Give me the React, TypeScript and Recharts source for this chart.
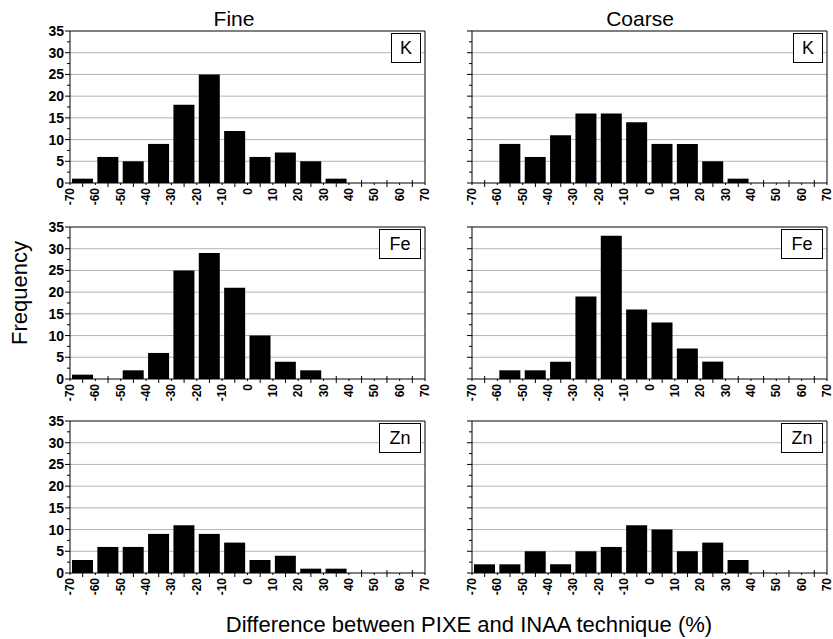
import { Bar, BarChart, CartesianGrid, ReferenceLine, XAxis, YAxis } from 'recharts';

const FONT = 'Liberation Sans, Arial, sans-serif';

// histogram bins (% difference), bin centres between the labelled edges
const binCenters = [-65, -55, -45, -35, -25, -15, -5, 5, 15, 25, 35, 45, 55, 65];
const xTickValues = [-70, -65, -60, -55, -50, -45, -40, -35, -30, -25, -20, -15, -10, -5, 0, 5, 10, 15, 20, 25, 30, 35, 40, 45, 50, 55, 60, 65, 70];
const yTickValues = [0, 2.5, 5, 7.5, 10, 12.5, 15, 17.5, 20, 22.5, 25, 27.5, 30, 32.5, 35];
const gridValues = [5, 10, 15, 20, 25, 30];

const fineK = [1, 6, 5, 9, 18, 25, 12, 6, 7, 5, 1, 0, 0, 0];
const coarseK = [0, 9, 6, 11, 16, 16, 14, 9, 9, 5, 1, 0, 0, 0];
const fineFe = [1, 0, 2, 6, 25, 29, 21, 10, 4, 2, 0, 0, 0, 0];
const coarseFe = [0, 2, 2, 4, 19, 33, 16, 13, 7, 4, 0, 0, 0, 0];
const fineZn = [3, 6, 6, 9, 11, 9, 7, 3, 4, 1, 1, 0, 0, 0];
const coarseZn = [2, 2, 5, 2, 5, 6, 11, 10, 5, 7, 3, 0, 0, 0];

const PLOT_W = 355;
const PLOT_H = 152;
const Y_AXIS_W = 42;
const X_AXIS_H = 34;
const TOP_PAD = 9;

function XTick(props: any) {
  const { x, y, payload } = props;
  const v = payload.value as number;
  if (v % 10 !== 0) {
    return <line x1={x} x2={x} y1={y - 3} y2={y + 4} stroke="#000" />;
  }
  return (
    <g>
      <line x1={x} x2={x} y1={y} y2={y + 2} stroke="#000" />
      <text
        x={x}
        y={y + 5}
        transform={`rotate(-90, ${x}, ${y + 5})`}
        textAnchor="end"
        dominantBaseline="central"
        style={{ fontSize: 12, fontWeight: 700, fontFamily: FONT }}
        fill="#000"
      >
        {v}
      </text>
    </g>
  );
}

function makeYTick(showLabels: boolean) {
  return function YTick(props: any) {
    const { x, y, payload } = props;
    const v = payload.value as number;
    const major = v % 5 === 0;
    return (
      <g>
        <line x1={x - (major ? 5 : 3)} x2={x} y1={y} y2={y} stroke="#000" />
        {major && showLabels && (
          <text
            x={x - 6}
            y={y}
            textAnchor="end"
            dominantBaseline="central"
            style={{ fontSize: 14, fontWeight: 700, fontFamily: FONT }}
            fill="#000"
          >
            {v}
          </text>
        )}
      </g>
    );
  };
}

function Panel({ values, label, left, top, showYLabels }: { values: number[]; label: string; left: number; top: number; showYLabels: boolean }) {
  const data = binCenters.map((x, i) => ({ x, v: values[i] }));
  const boxW = label.length > 1 ? 42 : 30;
  return (
    <>
      <div style={{ position: 'absolute', left: left - Y_AXIS_W, top: top - TOP_PAD }}>
        <BarChart width={Y_AXIS_W + PLOT_W + 6} height={TOP_PAD + PLOT_H + X_AXIS_H} data={data} margin={{ top: TOP_PAD, right: 6, left: 0, bottom: 0 }}>
          <CartesianGrid vertical={false} horizontalValues={gridValues} stroke="#b4b4b4" />
          <XAxis
            dataKey="x"
            type="number"
            domain={[-70, 70]}
            allowDataOverflow
            ticks={xTickValues}
            interval={0}
            tickSize={0}
            tickMargin={0}
            tickLine={false}
            axisLine={{ stroke: '#000' }}
            tick={<XTick />}
            height={X_AXIS_H}
          />
          <YAxis
            type="number"
            domain={[0, 35]}
            allowDataOverflow
            ticks={yTickValues}
            interval={0}
            tickSize={0}
            tickMargin={0}
            tickLine={false}
            axisLine={{ stroke: '#000' }}
            tick={makeYTick(showYLabels)}
            width={Y_AXIS_W}
          />
          <Bar dataKey="v" fill="#000" barSize={21} isAnimationActive={false} />
          <ReferenceLine y={35} stroke="#000" />
          <ReferenceLine x={70} stroke="#000" />
        </BarChart>
      </div>
      <div
        style={{
          position: 'absolute',
          left: left + PLOT_W - 4 - boxW,
          top: top + 2,
          width: boxW,
          height: 30,
          boxSizing: 'border-box',
          border: '1px solid #000',
          background: '#fff',
          fontFamily: FONT,
          fontSize: 18,
          lineHeight: '28px',
          textAlign: 'center',
          color: '#000',
        }}
      >
        {label}
      </div>
    </>
  );
}

const columns = [
  { title: 'Fine', left: 70, titleX: 234 },
  { title: 'Coarse', left: 472, titleX: 640 },
];
const rows = [
  { label: 'K', top: 31, series: [fineK, coarseK] },
  { label: 'Fe', top: 227, series: [fineFe, coarseFe] },
  { label: 'Zn', top: 421, series: [fineZn, coarseZn] },
];

export default function App() {
  return (
    <div style={{ position: 'absolute', left: 0, top: 0, width: 833, height: 639, background: '#fff', overflow: 'hidden' }}>
      {rows.map((r) =>
        columns.map((c, ci) => (
          <Panel key={r.label + c.title} values={r.series[ci]} label={r.label} left={c.left} top={r.top} showYLabels={ci === 0} />
        ))
      )}
      <svg width={833} height={639} style={{ position: 'absolute', left: 0, top: 0, pointerEvents: 'none' }}>
        {columns.map((c) => (
          <text key={c.title} x={c.titleX} y={26} textAnchor="middle" fontSize={21} fontFamily={FONT} fill="#000">
            {c.title}
          </text>
        ))}
        <text x={27} y={293} transform="rotate(-90, 27, 293)" textAnchor="middle" fontSize={22} fontFamily={FONT} fill="#000">
          Frequency
        </text>
        <text x={469} y={632} textAnchor="middle" fontSize={22} fontFamily={FONT} fill="#000">
          Difference between PIXE and INAA technique (%)
        </text>
      </svg>
    </div>
  );
}
